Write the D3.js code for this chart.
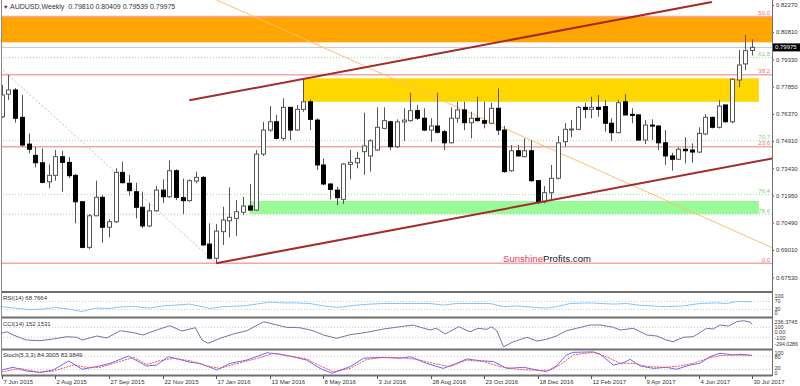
<!DOCTYPE html>
<html>
<head>
<meta charset="utf-8">
<script src="https://cdn.jsdelivr.net/npm/d3@7"></script>
<style>
body { margin: 0; background: #fff; }
svg { display: block; font-family: "Liberation Sans", Arial, sans-serif; }
</style>
</head>
<body>
<svg id="chart" width="800" height="386"></svg>
<script>
// weekly AUDUSD candles, week 0 = 7 Jun 2015
var candleOpen = [0.7622,0.7744,0.7767,0.7619,0.7474,0.7413,0.7373,0.7270,0.7305,0.7406,0.7375,0.7305,0.7162,0.6915,0.7086,0.7186,0.7024,0.7054,0.7321,0.7262,
    0.7216,0.7132,0.7031,0.7113,0.7225,0.7189,0.7330,0.7184,0.7168,0.7274,0.7294,0.6933,0.6856,0.7000,0.7059,0.7072,0.7105,0.7139,0.7117,0.7420,
    0.7550,0.7595,0.7505,0.7673,0.7550,0.7662,0.7703,0.7604,0.7361,0.7258,0.7225,0.7175,0.7364,0.7373,0.7433,0.7410,0.7442,0.7559,0.7595,0.7460,
    0.7594,0.7601,0.7655,0.7614,0.7550,0.7572,0.7541,0.7481,0.7614,0.7659,0.7590,0.7614,0.7601,0.7587,0.7668,0.7550,0.7330,0.7438,0.7406,0.7438,
    0.7276,0.7162,0.7211,0.7289,0.7487,0.7554,0.7554,0.7673,0.7662,0.7673,0.7677,0.7587,0.7536,0.7703,0.7635,0.7632,0.7496,0.7577,0.7572,0.7481,
    0.7410,0.7392,0.7446,0.7442,0.7431,0.7529,0.7619,0.7565,0.7686,0.7595,0.7821,0.7908,0.79810];
var candleHigh = [0.7794,0.7848,0.7778,0.7740,0.7532,0.7460,0.7451,0.7364,0.7442,0.7438,0.7404,0.7312,0.7166,0.7096,0.7276,0.7198,0.7067,0.7343,0.7379,0.7307,
    0.7265,0.7216,0.7153,0.7249,0.7283,0.7386,0.7337,0.7287,0.7283,0.7325,0.7301,0.7045,0.7041,0.7135,0.7240,0.7171,0.7189,0.7258,0.7442,0.7595,
    0.7680,0.7632,0.7722,0.7676,0.7686,0.7830,0.7716,0.7614,0.7397,0.7262,0.7242,0.7370,0.7442,0.7433,0.7644,0.7500,0.7673,0.7673,0.7601,0.7608,
    0.7668,0.7752,0.7686,0.7668,0.7614,0.7752,0.7550,0.7673,0.7703,0.7703,0.7649,0.7731,0.7703,0.7698,0.7776,0.7572,0.7469,0.7469,0.7505,0.7496,
    0.7280,0.7247,0.7361,0.7518,0.7587,0.7604,0.7680,0.7698,0.7731,0.7740,0.7713,0.7614,0.7713,0.7745,0.7668,0.7637,0.7604,0.7608,0.7577,0.7550,
    0.7427,0.7456,0.7511,0.7478,0.7565,0.7637,0.7622,0.7713,0.7686,0.7830,0.7983,0.8065,0.80409];
var candleLow = [0.7615,0.7713,0.7590,0.7460,0.7424,0.7348,0.7262,0.7235,0.7276,0.7216,0.7290,0.7045,0.6910,0.6906,0.7084,0.6940,0.6969,0.7047,0.7262,0.7195,
    0.7072,0.7018,0.7024,0.7108,0.7155,0.7182,0.7171,0.7096,0.7162,0.7262,0.6925,0.6850,0.6829,0.6928,0.6969,0.6976,0.7090,0.7113,0.7113,0.7410,
    0.7541,0.7500,0.7492,0.7496,0.7546,0.7649,0.7550,0.7334,0.7252,0.7175,0.7144,0.7150,0.7283,0.7343,0.7307,0.7325,0.7438,0.7554,0.7442,0.7453,
    0.7492,0.7595,0.7604,0.7545,0.7487,0.7532,0.7442,0.7478,0.7590,0.7550,0.7505,0.7595,0.7559,0.7583,0.7523,0.7319,0.7325,0.7406,0.7402,0.7270,
    0.7153,0.7153,0.7171,0.7283,0.7460,0.7511,0.7550,0.7614,0.7614,0.7622,0.7541,0.7492,0.7532,0.7628,0.7587,0.7492,0.7474,0.7496,0.7442,0.7361,
    0.7330,0.7388,0.7370,0.7373,0.7424,0.7523,0.7559,0.7559,0.7590,0.7587,0.7781,0.7875,0.79539];
var candleClose = [0.7740,0.7767,0.7614,0.7469,0.7446,0.7373,0.7267,0.7305,0.7406,0.7375,0.7303,0.7162,0.6915,0.7086,0.7186,0.7024,0.7054,0.7321,0.7265,0.7222,
    0.7132,0.7031,0.7113,0.7225,0.7189,0.7330,0.7186,0.7168,0.7276,0.7294,0.6928,0.6856,0.7003,0.7063,0.7078,0.7108,0.7139,0.7117,0.7420,0.7550,
    0.7595,0.7505,0.7673,0.7550,0.7662,0.7703,0.7608,0.7361,0.7258,0.7229,0.7184,0.7366,0.7375,0.7397,0.7464,0.7492,0.7565,0.7601,0.7460,0.7595,
    0.7604,0.7655,0.7614,0.7550,0.7572,0.7538,0.7481,0.7614,0.7659,0.7590,0.7614,0.7601,0.7587,0.7668,0.7550,0.7325,0.7438,0.7410,0.7438,0.7276,
    0.7157,0.7211,0.7289,0.7481,0.7554,0.7556,0.7673,0.7662,0.7673,0.7662,0.7587,0.7536,0.7698,0.7632,0.7630,0.7496,0.7577,0.7572,0.7481,0.7410,
    0.7392,0.7446,0.7438,0.7431,0.7532,0.7619,0.7565,0.7680,0.7595,0.7825,0.7902,0.7980,0.79975];

var dateLabels = ["7 Jun 2015","2 Aug 2015","27 Sep 2015","22 Nov 2015","17 Jan 2016","13 Mar 2016","8 May 2016","3 Jul 2016",
    "28 Aug 2016","23 Oct 2016","18 Dec 2016","12 Feb 2017","9 Apr 2017","4 Jun 2017","30 Jul 2017"];
var dateLabelWeeks = [0,8,16,24,32,40,48,56,64,72,80,88,96,104,112];
var priceTicks = [0.82270,0.80810,0.79330,0.77850,0.76370,0.74910,0.73430,0.71950,0.70490,0.69010,0.67530];
var lastPrice = 0.79975;

// fibonacci levels
var redFibNames = ["0.0","23.6","38.2","50.0"];
var redFibPrices = [0.6829,0.7460,0.7850,0.8165];
var greenFibNames = ["61.8","70.7","76.4","78.6"];
var greenFibPrices = [0.7942,0.7492,0.7202,0.7094];

// zones [fromWeek, toWeek, lowPrice, highPrice]
var orangeZone = [-1, 116, 0.8025, 0.8164];
var yellowZone = [45, 113, 0.7703, 0.7830];
var greenZone = [37, 113, 0.7096, 0.7166];

// trend lines [[week, price], [week, price]]
var upperChannel = [[28, 0.7711], [106, 0.8243]];
var lowerChannel = [[32, 0.6829], [115, 0.7396]];
var orangeTrend = [[32.1, 0.8254], [115, 0.6913]];
var fibDiagonal = [[-0.25, 0.7888], [32, 0.6829]];

// indicators [week, value]
var rsiPts = [[0,44],[2,37],[4,29],[6,32],[8,40],[10,32],[12,20],[14,37],[16,35],[18,44],[20,44],[22,37],[24,48],[26,52],[28,57],[30,44],[31,35],[33,44],[36,48],[38,57],
    [40,67],[42,63],[44,63],[46,60],[48,48],[50,41],[51,44],[53,52],[55,57],[57,60],[59.5,60],[61.4,60],[63.9,60],[65.9,52],[67.9,60],[69.4,60],[72.9,60],[74.9,44],
    [76.9,48],[79.3,41],[81.3,37],[82.8,44],[84.8,60],[87.8,63],[91.3,57],[93.3,60],[95.3,51],[99.2,44],[101.7,48],[104.2,60],[106.7,63],[108.2,60],[109.7,70],[112,68.77]];
var cciPts = [[0,-20],[0.75,12],[1.7,-54],[3.7,-154],[5.7,-168],[7.7,-134],[9.7,-88],[11.2,-100],[12,-154],[12.7,-128],[14.2,-74],[15.7,-114],[17.7,32],[19.7,-8],
    [21.1,-54],[23.1,46],[25.1,132],[26.9,26],[28.9,92],[29.9,-154],[30.8,-220],[32.6,-120],[34.6,-34],[36.6,32],[39.1,212],[40.5,166],[42.5,100],[44.5,92],[46.5,32],
    [48,-54],[50,-120],[52,-48],[54.5,0],[57,66],[59.5,112],[61.4,146],[63.9,46],[64.9,80],[66.2,-34],[68.2,112],[69.9,12],[71.1,80],[72.4,60],[73.1,112],[73.9,32],
    [74.9,-288],[76.4,-188],[78.4,-100],[79.9,-174],[81.3,-140],[82.8,-74],[84.3,32],[85.8,80],[87.8,146],[89.3,146],[91.3,100],[92.3,46],[94.3,80],[96.3,-54],
    [97.8,-74],[99.2,-154],[100.2,-188],[101.7,-100],[103.2,-88],[104.2,-8],[105.2,80],[106.2,66],[107.2,146],[108.5,126],[109.7,212],[110.7,232],[111.7,206],[112,152.15]];
var stochMainPts = [[0,18],[1.7,30],[3.7,13],[5.7,7],[7.7,18],[10,59],[12,21],[14.2,33],[16.2,48],[18.9,81],[21.6,36],[23.1,40],[24.9,78],[26.9,63],[28.1,53],[29.6,48],
    [32.1,18],[34.1,48],[36.6,63],[39.6,96],[41.5,90],[43.5,78],[45.5,63],[47.5,25],[49.3,3],[52,33],[54,71],[56.5,75],[59.5,71],[61,78],[63.4,48],[65.9,25],[67.9,48],
    [69.4,68],[71.4,60],[73.4,56],[75.4,25],[77.9,30],[79.4,21],[81.3,10],[82.8,36],[84.3,86],[85.3,98],[88.3,100],[89.3,90],[91.3,40],[92.8,51],[93.8,66],[95.3,36],
    [97.3,25],[99.2,30],[100.7,21],[102.7,40],[104.2,48],[105.7,78],[107.2,94],[109.2,86],[110.2,89],[112,84.3]];
var stochSignalPts = [[0,9],[2.7,25],[5.7,7],[7.7,13],[10.7,40],[12.7,30],[14.7,30],[16.7,48],[19.7,75],[21.6,43],[23.6,60],[25.6,71],[28.1,60],[30.6,36],[32.6,25],
    [34.6,43],[37.6,66],[40.6,93],[43.5,78],[45.5,68],[47.5,36],[49.5,10],[52,25],[54.5,66],[57,75],[59.5,74],[61.9,66],[64.4,48],[66.9,33],[69.4,63],[71.9,56],
    [74.4,33],[76.9,21],[80.4,15],[81.9,18],[83.3,40],[85.3,86],[88.3,98],[90.3,78],[92.3,48],[94.3,48],[96.3,33],[99.2,30],[101.2,36],[103.2,48],[105.2,69],
    [107.2,83],[109.2,86],[112,83.98]];

var svg = d3.select("#chart");
var plotRight = 772;

var x = d3.scaleLinear().domain([0, 112]).range([1.7, 752.1]);
var y = d3.scaleLinear().domain([0.6753, 0.8227]).range([277.3, 5]);
var rsiY = d3.scaleLinear().domain([0, 100]).range([315.5, 295.5]);
var cciY = d3.scaleLinear().domain([-294.0286, 236.3745]).range([347, 320.5]);
var stY = d3.scaleLinear().domain([0, 100]).range([373.9, 351.9]);

svg.append("defs").append("clipPath").attr("id", "mainClip")
    .append("rect").attr("x", 1).attr("y", 0).attr("width", plotRight - 1).attr("height", 291);

var main = svg.append("g").attr("clip-path", "url(#mainClip)");

// zones
function zone(z, color) {
    main.append("rect")
        .attr("x", x(z[0])).attr("y", y(z[3]))
        .attr("width", x(z[1]) - x(z[0])).attr("height", y(z[2]) - y(z[3]))
        .attr("fill", color);
}
zone(orangeZone, "#ffa500");
zone(yellowZone, "#ffd700");
zone(greenZone, "#98fb98");

// fib lines
redFibPrices.forEach(function(p, k) {
    main.append("line").attr("x1", 0).attr("x2", plotRight).attr("y1", y(p)).attr("y2", y(p))
        .attr("stroke", "#f6a5a5").attr("stroke-width", 1.5);
    main.append("text").attr("x", plotRight - 2).attr("y", y(p) - 1.5).attr("text-anchor", "end")
        .attr("font-size", 6).attr("fill", "#f07070").text(redFibNames[k]);
});
greenFibPrices.forEach(function(p, k) {
    main.append("line").attr("x1", 0).attr("x2", plotRight).attr("y1", y(p)).attr("y2", y(p))
        .attr("stroke", "#90e090").attr("stroke-width", 1).attr("stroke-dasharray", "1,2");
    main.append("text").attr("x", plotRight - 2).attr("y", y(p) - 1.5).attr("text-anchor", "end")
        .attr("font-size", 6).attr("fill", "#80d080").text(greenFibNames[k]);
});

// current price line
main.append("line").attr("x1", 0).attr("x2", plotRight).attr("y1", y(lastPrice)).attr("y2", y(lastPrice))
    .attr("stroke", "#c8c8c8").attr("stroke-width", 1);

function trend(pts, color, width, dash) {
    main.append("line")
        .attr("x1", x(pts[0][0])).attr("y1", y(pts[0][1]))
        .attr("x2", x(pts[1][0])).attr("y2", y(pts[1][1]))
        .attr("stroke", color).attr("stroke-width", width)
        .attr("stroke-dasharray", dash || null);
}
trend(fibDiagonal, "#c0c0c0", 1, "2,2");
trend(orangeTrend, "#fbc070", 1);

// watermark
var wm = main.append("text").attr("x", 503).attr("y", 261.5).attr("font-size", 9.6);
wm.append("tspan").attr("fill", "#e8385f").text("Sunshine");
wm.append("tspan").attr("fill", "#222").text("Profits.com");

// candles
var weeks = d3.range(candleClose.length);
var candles = main.append("g").selectAll("g").data(weeks).enter().append("g");
candles.append("line")
    .attr("x1", function(i) { return Math.round(x(i)) + 0.5; })
    .attr("x2", function(i) { return Math.round(x(i)) + 0.5; })
    .attr("y1", function(i) { return y(candleHigh[i]); })
    .attr("y2", function(i) { return y(candleLow[i]); })
    .attr("stroke", "#555").attr("stroke-width", 1);
candles.append("rect")
    .attr("x", function(i) { return Math.round(x(i)) - 1.5; })
    .attr("y", function(i) { return y(Math.max(candleOpen[i], candleClose[i])); })
    .attr("width", 4)
    .attr("height", function(i) { return Math.max(1, Math.abs(y(candleOpen[i]) - y(candleClose[i]))); })
    .attr("fill", function(i) { return candleClose[i] >= candleOpen[i] ? "#fff" : "#000"; })
    .attr("stroke", function(i) { return candleClose[i] >= candleOpen[i] ? "#555" : "#000"; })
    .attr("stroke-width", 1);

// channel lines on top
trend(upperChannel, "#a52a2a", 2);
trend(lowerChannel, "#a52a2a", 2);

// title
svg.append("text").attr("x", 3).attr("y", 8.5).attr("font-size", 5.5).attr("fill", "#333").text("\u25bc");
svg.append("text").attr("x", 10).attr("y", 8.5).attr("font-size", 7).attr("fill", "#333")
    .attr("xml:space", "preserve")
    .text("AUDUSD,Weekly  0.79810 0.80409 0.79539 0.79975");

// price axis
var yAxis = svg.append("g").attr("transform", "translate(" + plotRight + ",0)")
    .call(d3.axisRight(y).tickValues(priceTicks).tickFormat(d3.format(".5f")).tickSize(2).tickPadding(2));
yAxis.select(".domain").remove();
yAxis.selectAll("text").attr("font-size", 6).attr("fill", "#333").attr("font-family", "Liberation Sans, Arial, sans-serif");
yAxis.selectAll("line").attr("stroke", "#555");

svg.append("rect").attr("x", plotRight).attr("y", y(lastPrice) - 4).attr("width", 28).attr("height", 8).attr("fill", "#000");
svg.append("text").attr("x", plotRight + 3).attr("y", y(lastPrice) + 2).attr("font-size", 6).attr("fill", "#fff").text(d3.format(".5f")(lastPrice));

// indicator panels
function levelLine(yy) {
    svg.append("line").attr("x1", 1).attr("x2", plotRight).attr("y1", yy).attr("y2", yy)
        .attr("stroke", "#c8c8c8").attr("stroke-dasharray", "1,2");
}
function sideLabel(yy, txt, size) {
    svg.append("text").attr("x", plotRight + 2.5).attr("y", yy + 2).attr("font-size", size || 5.5).attr("fill", "#333").text(txt);
}
function indLine(pts, sy, color, dash) {
    svg.append("path").datum(pts)
        .attr("d", d3.line().x(function(d) { return x(d[0]); }).y(function(d) { return sy(d[1]); }))
        .attr("fill", "none").attr("stroke", color).attr("stroke-width", 1)
        .attr("stroke-dasharray", dash || null);
}

levelLine(rsiY(70)); levelLine(rsiY(30));
indLine(rsiPts, rsiY, "#87c4f5");
svg.append("text").attr("x", 3).attr("y", 300).attr("font-size", 6).attr("fill", "#333").text("RSI(14) 68.7664");
sideLabel(296, "100"); sideLabel(300.8, "70"); sideLabel(308.8, "30"); sideLabel(313.4, "0");

levelLine(cciY(100)); levelLine(cciY(-100));
indLine(cciPts, cciY, "#7474a4");
svg.append("text").attr("x", 3).attr("y", 326).attr("font-size", 6).attr("fill", "#333").text("CCI(14) 152.1531");
sideLabel(321.8, "236.3745"); sideLabel(326.8, "100"); sideLabel(332, "0.00"); sideLabel(337.5, "-100"); sideLabel(343.5, "-294.0286", 5.2);

levelLine(stY(80)); levelLine(stY(20));
indLine(stochMainPts, stY, "#6a6aff");
indLine(stochSignalPts, stY, "#f05050", "2,1");
svg.append("text").attr("x", 3).attr("y", 357).attr("font-size", 6).attr("fill", "#333").text("Stoch(5,3,3) 84.3005 83.9849");
sideLabel(352.5, "100"); sideLabel(357.2, "80"); sideLabel(368.3, "20"); sideLabel(372.8, "0");

// frame and separators
[292, 317.5, 349.5, 375.5].forEach(function(yy) {
    svg.append("line").attr("x1", 1).attr("x2", plotRight).attr("y1", yy).attr("y2", yy)
        .attr("stroke", "#6e6e6e").attr("stroke-width", 1.8);
});
svg.append("line").attr("x1", 1.5).attr("x2", 1.5).attr("y1", 0).attr("y2", 376).attr("stroke", "#8a8a8a");
svg.append("line").attr("x1", plotRight + 0.5).attr("x2", plotRight + 0.5).attr("y1", 0).attr("y2", 376).attr("stroke", "#6e6e6e");

// date axis
dateLabelWeeks.forEach(function(w, k) {
    var xx = Math.round(x(w)) + 0.5;
    svg.append("line").attr("x1", xx).attr("x2", xx).attr("y1", 376).attr("y2", 379).attr("stroke", "#555");
    svg.append("text").attr("x", xx + 1).attr("y", 383.5).attr("font-size", 6).attr("fill", "#333").text(dateLabels[k]);
});
</script>
</body>
</html>
